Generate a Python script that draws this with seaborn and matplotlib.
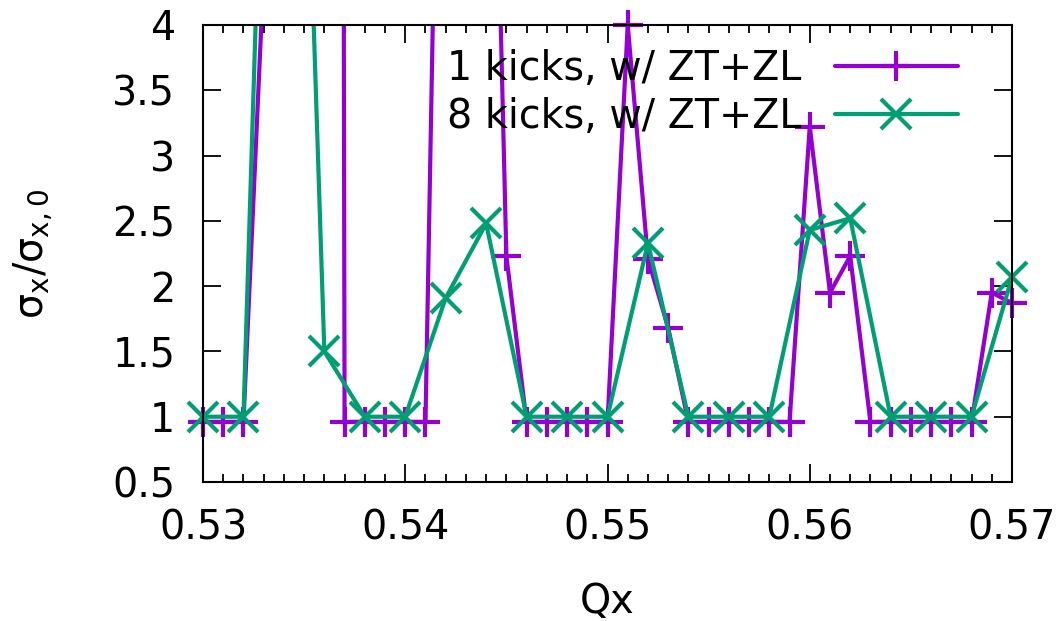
import numpy as np
import pandas as pd
import matplotlib
matplotlib.use("Agg")
import matplotlib.pyplot as plt
from matplotlib.ticker import MultipleLocator, FormatStrFormatter
from matplotlib.lines import Line2D
import seaborn as sns

# ---- data ----
qx_1kick = [0.530, 0.531, 0.532, 0.533, 0.534, 0.535, 0.536, 0.537, 0.538, 0.539,
            0.540, 0.541, 0.542, 0.543, 0.544, 0.545, 0.546, 0.547, 0.548, 0.549,
            0.550, 0.551, 0.552, 0.553, 0.554, 0.555, 0.556, 0.557, 0.558, 0.559,
            0.560, 0.561, 0.562, 0.563, 0.564, 0.565, 0.566, 0.567, 0.568, 0.569,
            0.570]
sigma_1kick = [0.96, 0.96, 0.96, 4.4, 15.0, 30.0, 80.0, 0.96, 0.96, 0.96,
               0.96, 0.96, 9.4, 12.0, 8.6, 2.23, 0.96, 0.96, 0.96, 0.96,
               0.96, 4.0, 2.21, 1.68, 0.96, 0.96, 0.96, 0.96, 0.96, 0.96,
               3.22, 1.95, 2.23, 0.96, 0.96, 0.96, 0.96, 0.96, 0.96, 1.95,
               1.87]
qx_8kick = [0.530, 0.532, 0.534, 0.536, 0.538, 0.540, 0.542, 0.544, 0.546, 0.548,
            0.550, 0.552, 0.554, 0.556, 0.558, 0.560, 0.562, 0.564, 0.566, 0.568,
            0.570]
sigma_8kick = [1.0, 1.0, 11.0, 1.50, 1.0, 1.0, 1.91, 2.48, 1.0, 1.0,
               1.0, 2.33, 1.0, 1.0, 1.0, 2.43, 2.52, 1.0, 1.0, 1.0,
               2.07]
labels = ["1 kicks, w/ ZT+ZL", "8 kicks, w/ ZT+ZL"]
colors = ["#9400D3", "#009E73"]
markers = ["+", "x"]
x_ticks = [0.53, 0.54, 0.55, 0.56, 0.57]
y_ticks = [0.5, 1, 1.5, 2, 2.5, 3, 3.5, 4]
y_tick_labels = ["0.5", "1", "1.5", "2", "2.5", "3", "3.5", "4"]
y_min, y_max = 0.5, 4.0

sns.set_theme(style="white")
plt.rcParams['font.family'] = ['DejaVu Sans']
plt.rcParams.update({"text.color": "black", "axes.labelcolor": "black",
                     "xtick.color": "black", "ytick.color": "black"})
FS = 28.5

fig = plt.figure(figsize=(10.64, 6.21), dpi=100)
ax = fig.add_axes([203/1064, 1 - 482/621, (1012-203)/1064, (482-25)/621])

series = [(qx_1kick, sigma_1kick), (qx_8kick, sigma_8kick)]
for (xs, ys), lab, col, mk in zip(series, labels, colors, markers):
    df = pd.DataFrame({"Qx": xs, "sigma": ys})
    sns.lineplot(data=df, x="Qx", y="sigma", ax=ax, color=col, linewidth=3,
                 sort=False, estimator=None, legend=False)
    inr = df[(df["sigma"] >= y_min) & (df["sigma"] <= y_max)]
    sns.lineplot(data=inr, x="Qx", y="sigma", ax=ax, color=col, linestyle="",
                 marker=mk, markersize=22, markeredgewidth=3, markeredgecolor=col,
                 sort=False, estimator=None, legend=False, clip_on=False)

ax.set_xlim(0.53, 0.57)
ax.set_ylim(y_min, y_max)
ax.set_xticks(x_ticks)
ax.set_yticks(y_ticks)
ax.xaxis.set_major_formatter(FormatStrFormatter('%.2f'))
ax.set_yticklabels(y_tick_labels)
ax.xaxis.set_minor_locator(MultipleLocator(0.001))
ax.tick_params(which="both", direction="in", top=True, right=True, left=True,
               bottom=True, color="black", labelsize=FS, width=1.3)
ax.tick_params(which="major", length=13)
ax.tick_params(which="minor", length=6)
ax.tick_params(axis="x", pad=19)
ax.tick_params(axis="y", pad=20)
for s in ax.spines.values():
    s.set_color("black")
    s.set_linewidth(1.5)

ax.set_xlabel("Qx", fontsize=FS, labelpad=24)
ax.set_ylabel(r"$\mathregular{\sigma_x/\sigma_{x,0}}$", fontsize=FS, labelpad=41)

handles = [Line2D([], [], color=c, linewidth=3, marker=m, markersize=22,
                  markeredgewidth=3) for c, m in zip(colors, markers)]
leg = ax.legend(handles, labels, loc="upper right", bbox_to_anchor=(0.933, 0.948),
                frameon=False, fontsize=FS, markerfirst=False, handlelength=3.1,
                handletextpad=0.85, labelspacing=0.2, borderpad=0, borderaxespad=0)

fig.savefig("out.png", dpi=100)
